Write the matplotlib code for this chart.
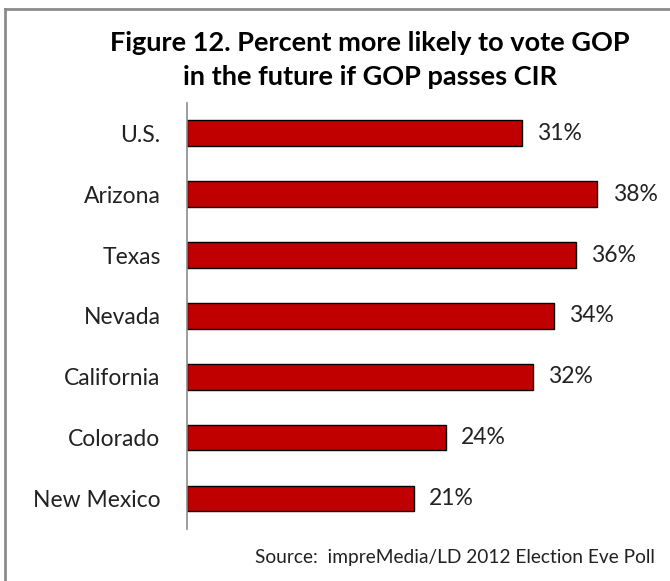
import matplotlib
matplotlib.use('Agg')
import matplotlib.pyplot as plt
from matplotlib.lines import Line2D

states = ['U.S.', 'Arizona', 'Texas', 'Nevada', 'California', 'Colorado', 'New Mexico']
percents = [31, 38, 36, 34, 32, 24, 21]

plt.rcParams['font.family'] = ['Lato', 'DejaVu Sans']

fig = plt.figure(figsize=(6.7, 5.81), dpi=100)
ax = fig.add_axes([0.279, 0.0895, 0.645, 0.7335])

pos = list(range(len(states)))
ax.barh(pos, percents, height=0.42, color='#C00000', edgecolor='black', linewidth=1)
for p, v in zip(pos, percents):
    ax.text(v + 1.4, p, str(v) + '%', va='center', ha='left', fontsize=16.5, color='#222222')

ax.set_xlim(0, 40)
ax.set_ylim(len(states) - 0.5, -0.5)
ax.set_yticks(pos)
ax.set_yticklabels(states, fontsize=16.5, color='#222222')
ax.tick_params(axis='y', length=0, pad=19)
ax.set_xticks([])
for s in ['top', 'right', 'bottom']:
    ax.spines[s].set_visible(False)
ax.spines['left'].set_color('#8c8c8c')
ax.spines['left'].set_linewidth(1.2)

fig.text(0.552, 0.947, 'Figure 12. Percent more likely to vote GOP\nin the future if GOP passes CIR',
         ha='center', va='top', fontsize=19.5, fontweight='bold', linespacing=1.5)
fig.text(0.978, 0.040, 'Source:  impreMedia/LD 2012 Election Eve Poll',
         ha='right', va='center', fontsize=13.8, color='#222222')

# chart frame, top and left edges
fig.add_artist(Line2D([0.007, 1.0], [0.985, 0.985], color='#8c8c8c', linewidth=2))
fig.add_artist(Line2D([0.007, 0.007], [0.0, 0.985], color='#8c8c8c', linewidth=2))

plt.savefig('out.png', dpi=100)
